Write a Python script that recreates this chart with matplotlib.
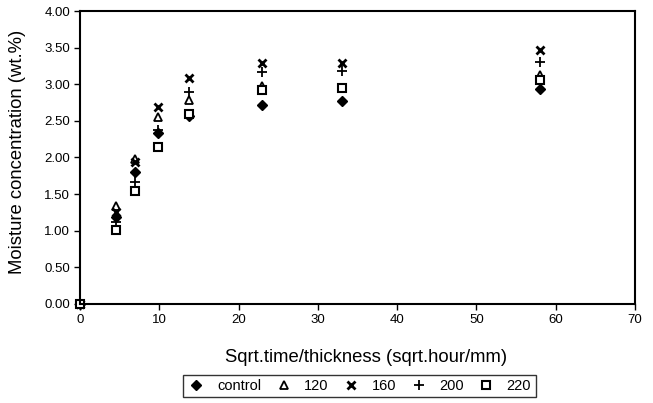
import matplotlib
matplotlib.use("Agg")
import matplotlib.pyplot as plt

plt.rcParams['font.family'] = ['Liberation Sans', 'DejaVu Sans']

# sqrt(time)/thickness values shared by all series
x_vals = [0, 4.6, 6.9, 9.8, 13.7, 23.0, 33.1, 58.0]

control = [0, 1.19, 1.80, 2.33, 2.56, 2.72, 2.77, 2.94]
s120 = [0, 1.34, 1.98, 2.55, 2.79, 2.97, 2.95, 3.12]
s160 = [0, 1.26, 1.94, 2.69, 3.09, 3.29, 3.29, 3.47]
s200 = [0, 1.12, 1.67, 2.37, 2.89, 3.17, 3.18, 3.30]
s220 = [0, 1.01, 1.54, 2.14, 2.60, 2.92, 2.95, 3.06]

labels = ['control', '120', '160', '200', '220']
y_ticks = [0, 0.5, 1.0, 1.5, 2.0, 2.5, 3.0, 3.5, 4.0]
x_ticks = [0, 10, 20, 30, 40, 50, 60, 70]

fig = plt.figure(figsize=(6.53, 4.03), dpi=100)
ax = fig.add_axes([0.1225, 0.2457, 0.850, 0.727])

ax.plot(x_vals, control, 'D', color='black', ms=5, label=labels[0], clip_on=False)
ax.plot(x_vals, s120, '^', mfc='white', mec='black', mew=1.3, ms=6, label=labels[1], clip_on=False)
ax.plot(x_vals, s160, 'x', color='black', mew=2, ms=5.5, label=labels[2], clip_on=False)
ax.plot(x_vals, s200, '+', color='black', mew=1.3, ms=7, label=labels[3], clip_on=False)
ax.plot(x_vals, s220, 's', mfc='white', mec='black', mew=1.5, ms=6, label=labels[4], clip_on=False)

ax.set_xlim(0, 70)
ax.set_ylim(0, 4)
ax.set_xticks(x_ticks)
ax.set_yticks(y_ticks)
ax.set_yticklabels(["{:.2f}".format(v) for v in y_ticks])
ax.tick_params(direction='out', length=4, width=1, labelsize=9.5, pad=3)
for sp in ax.spines.values():
    sp.set_linewidth(1.5)

ax.set_xlabel('Sqrt.time/thickness (sqrt.hour/mm)', fontsize=13.3)
ax.xaxis.set_label_coords(0.515, -0.155)
ax.set_ylabel('Moisture concentration (wt.%)', fontsize=13.3)
ax.yaxis.set_label_coords(-0.097, 0.52)

leg = fig.legend(loc='center', bbox_to_anchor=(0.5505, 0.042), ncol=5, fontsize=10.5,
                 frameon=True, fancybox=False, edgecolor='black', borderpad=0.3,
                 handletextpad=0.8, columnspacing=0.95, handlelength=1.2, borderaxespad=0)
leg.get_frame().set_linewidth(1.0)

fig.savefig('out.png', dpi=100)
